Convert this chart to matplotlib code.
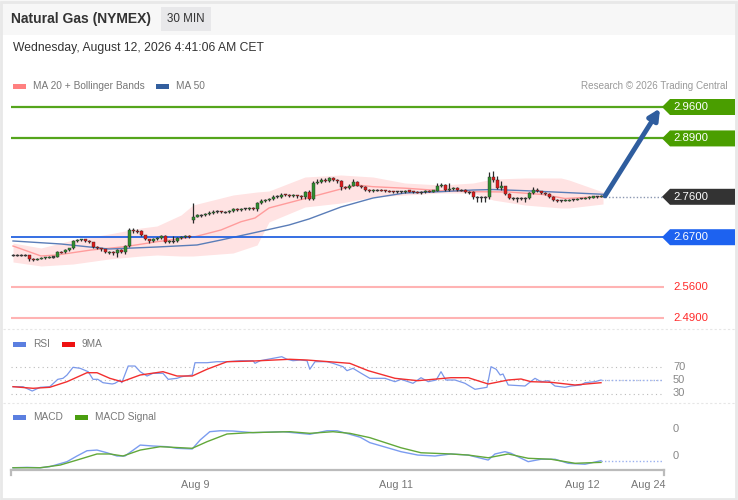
import matplotlib
matplotlib.use('Agg')
import matplotlib.pyplot as plt
from matplotlib.patches import Rectangle, Polygon
import numpy as np

plt.rcParams['font.family'] = ['Liberation Sans', 'DejaVu Sans']

W, H = 738, 500

# ---- data (30 min candles, index = candle number) ----
closes = [
    2.630, 2.630, 2.630, 2.630, 2.621, 2.620, 2.622, 2.624, 2.625, 2.626,
    2.626, 2.637, 2.636, 2.642, 2.645, 2.661, 2.663, 2.665, 2.662, 2.659,
    2.649, 2.645, 2.643, 2.636, 2.637, 2.635, 2.641, 2.637, 2.650, 2.685,
    2.684, 2.683, 2.675, 2.665, 2.662, 2.666, 2.668, 2.672, 2.659, 2.661,
    2.661, 2.668, 2.670, 2.672, 2.671, 2.716, 2.719, 2.719, 2.721, 2.723,
    2.727, 2.727, 2.726, 2.726, 2.728, 2.732, 2.731, 2.733, 2.733, 2.735,
    2.732, 2.746, 2.751, 2.753, 2.754, 2.760, 2.760, 2.765, 2.764, 2.762,
    2.763, 2.761, 2.760, 2.771, 2.755, 2.791, 2.793, 2.798, 2.796, 2.801,
    2.797, 2.795, 2.782, 2.780, 2.785, 2.794, 2.785, 2.782, 2.776, 2.773,
    2.775, 2.775, 2.774, 2.773, 2.772, 2.771, 2.771, 2.771, 2.774, 2.772,
    2.771, 2.770, 2.770, 2.773, 2.772, 2.774, 2.783, 2.786, 2.776, 2.777,
    2.780, 2.775, 2.775, 2.770, 2.770, 2.759, 2.759, 2.759, 2.759, 2.803,
    2.797, 2.779, 2.783, 2.766, 2.757, 2.757, 2.757, 2.757, 2.757, 2.768,
    2.775, 2.772, 2.768, 2.766, 2.760, 2.752, 2.751, 2.751, 2.752, 2.753,
    2.753, 2.756, 2.756, 2.757, 2.759, 2.760, 2.760, 2.761,
]
highs = [
    2.632, 2.632, 2.632, 2.632, 2.631, 2.623, 2.624, 2.626, 2.627, 2.628,
    2.628, 2.639, 2.639, 2.644, 2.647, 2.663, 2.666, 2.667, 2.667, 2.664,
    2.660, 2.650, 2.647, 2.644, 2.640, 2.639, 2.643, 2.643, 2.652, 2.690,
    2.690, 2.688, 2.685, 2.676, 2.667, 2.668, 2.670, 2.674, 2.676, 2.663,
    2.672, 2.670, 2.673, 2.675, 2.674, 2.747, 2.721, 2.722, 2.723, 2.728,
    2.730, 2.730, 2.729, 2.729, 2.731, 2.735, 2.734, 2.736, 2.736, 2.738,
    2.738, 2.749, 2.755, 2.756, 2.757, 2.763, 2.763, 2.768, 2.767, 2.766,
    2.766, 2.765, 2.764, 2.774, 2.776, 2.795, 2.800, 2.802, 2.801, 2.805,
    2.803, 2.799, 2.797, 2.785, 2.788, 2.800, 2.796, 2.787, 2.784, 2.778,
    2.777, 2.777, 2.777, 2.776, 2.775, 2.774, 2.773, 2.773, 2.776, 2.776,
    2.774, 2.773, 2.773, 2.775, 2.775, 2.776, 2.790, 2.790, 2.788, 2.790,
    2.782, 2.782, 2.778, 2.777, 2.773, 2.772, 2.762, 2.762, 2.762, 2.816,
    2.817, 2.806, 2.795, 2.785, 2.768, 2.760, 2.760, 2.760, 2.760, 2.770,
    2.781, 2.779, 2.774, 2.770, 2.768, 2.761, 2.754, 2.753, 2.754, 2.755,
    2.755, 2.758, 2.758, 2.759, 2.761, 2.762, 2.762, 2.763,
]
lows = [
    2.628, 2.628, 2.628, 2.628, 2.618, 2.618, 2.619, 2.621, 2.622, 2.623,
    2.624, 2.625, 2.634, 2.634, 2.640, 2.643, 2.659, 2.661, 2.660, 2.657,
    2.647, 2.643, 2.640, 2.634, 2.633, 2.630, 2.627, 2.634, 2.632, 2.648,
    2.680, 2.680, 2.673, 2.663, 2.657, 2.660, 2.664, 2.666, 2.657, 2.656,
    2.658, 2.659, 2.666, 2.668, 2.669, 2.701, 2.714, 2.716, 2.717, 2.719,
    2.721, 2.724, 2.723, 2.723, 2.724, 2.726, 2.728, 2.729, 2.730, 2.731,
    2.730, 2.728, 2.744, 2.749, 2.750, 2.752, 2.757, 2.758, 2.761, 2.759,
    2.760, 2.758, 2.756, 2.755, 2.752, 2.752, 2.789, 2.791, 2.793, 2.794,
    2.795, 2.791, 2.776, 2.777, 2.778, 2.783, 2.783, 2.780, 2.774, 2.771,
    2.771, 2.772, 2.772, 2.771, 2.770, 2.769, 2.769, 2.768, 2.769, 2.770,
    2.769, 2.768, 2.767, 2.768, 2.770, 2.770, 2.772, 2.781, 2.774, 2.774,
    2.775, 2.773, 2.772, 2.768, 2.767, 2.756, 2.748, 2.748, 2.749, 2.756,
    2.794, 2.777, 2.776, 2.764, 2.754, 2.753, 2.749, 2.753, 2.749, 2.755,
    2.766, 2.770, 2.766, 2.764, 2.758, 2.750, 2.749, 2.749, 2.750, 2.751,
    2.751, 2.752, 2.754, 2.755, 2.755, 2.758, 2.758, 2.759,
]
opens = [closes[0]] + closes[:-1]
opens[45] = 2.708  # weekend gap

ma20_x = [0, 7, 11, 19.5, 28, 36, 45.5, 52, 57, 60.5, 64, 73.5, 82, 86, 90,
          98.5, 107, 115, 124, 132.5, 138, 147.5]
ma20 = [2.6504, 2.6282, 2.6304, 2.6415, 2.6489, 2.6600, 2.6711, 2.6861,
        2.7045, 2.7128, 2.7351, 2.7573, 2.7774, 2.7863, 2.7825, 2.7789,
        2.7736, 2.7714, 2.7707, 2.7651, 2.7562, 2.7607]

bb_x = [0, 7, 15, 24, 32, 36, 42, 45, 55, 61, 64, 73, 82, 90, 98, 107, 115,
        120, 128, 137, 139, 147.5]
bb_upper = [2.6571, 2.6460, 2.6638, 2.6771, 2.6905, 2.6950, 2.7195, 2.7417,
            2.7640, 2.7707, 2.7729, 2.8041, 2.8086, 2.8041, 2.7907, 2.7863,
            2.7907, 2.7996, 2.8019, 2.8019, 2.7974, 2.7707]
bb_lower = [2.6148, 2.6059, 2.6103, 2.6215, 2.6281, 2.6304, 2.6281, 2.6281,
            2.6348, 2.6526, 2.7039, 2.7373, 2.7462, 2.7596, 2.7640, 2.7685,
            2.7685, 2.7529, 2.7417, 2.7351, 2.7351, 2.7440]

ma50_x = [0, 12, 24, 36, 46, 52, 60, 69, 74, 82, 90, 98, 107, 115, 120, 128,
          137, 147.5]
ma50 = [2.6616, 2.6549, 2.6437, 2.6482, 2.6527, 2.6638, 2.6794, 2.6972,
        2.7106, 2.7373, 2.7573, 2.7685, 2.7714, 2.7751, 2.7762, 2.7736,
        2.7700, 2.7656]

resistances = [2.96, 2.89]
pivot = 2.76
support_main = 2.67
supports_minor = [2.56, 2.49]

rsi_x = [0, 2.5, 4.8, 6.8, 9.2, 11.2, 12.5, 13.5, 15, 16.8, 18.8, 20, 21.2,
         22.5, 24.8, 25.5, 26.8, 27.2, 28.8, 30.5, 31.8, 33.5, 35, 37.5, 38.8,
         41, 42.2, 44.8, 45.5, 48.5, 51, 53.5, 56.8, 60, 60.5, 61.8, 65, 67.2,
         68.5, 70, 71.8, 73.5, 74.2, 75.5, 78.5, 80, 82.5, 83.5, 85, 86.8,
         89.2, 93, 95.5, 97, 100, 102, 103.8, 105.8, 107, 108.2, 110.5, 113,
         115.5, 117, 118.5, 119.5, 120.8, 121.8, 122.5, 123.8, 128, 130.5,
         132, 133.8, 135.5, 138, 139.5, 142, 143, 145.5, 147]
rsi = [40.1, 40.1, 33.7, 39.2, 40.1, 51.0, 52.5, 57.4, 68.8, 67.3, 62.3, 51.0,
       51.0, 46.0, 44.1, 45.1, 50.0, 46.0, 70.7, 70.7, 62.3, 55.9, 59.9, 59.9,
       51.0, 52.5, 54.9, 57.4, 75.6, 75.6, 77.1, 77.1, 78.6, 78.6, 74.7, 78.6,
       82.1, 84.5, 80.7, 78.6, 79.6, 78.6, 65.9, 77.1, 77.1, 74.7, 69.7, 63.8,
       67.3, 60.8, 52.5, 52.5, 47.5, 51.0, 45.1, 53.4, 47.5, 50.0, 62.3, 50.0,
       50.0, 45.1, 36.2, 37.7, 39.2, 69.7, 65.9, 57.4, 58.9, 42.6, 41.1, 52.5,
       47.5, 49.0, 41.1, 39.2, 41.1, 42.6, 46.0, 47.5, 50.0]

rsi_ma_x = [0, 5, 9.2, 13.5, 18.5, 21, 24.2, 27.2, 31.8, 37.5, 41, 44.8, 48.5,
            53.5, 60, 69.2, 73.5, 84.2, 88.8, 95.5, 101.2, 109.5, 113.8,
            118.8, 123.8, 127, 129.5, 134.5, 140.5, 147]
rsi_ma = [40.1, 37.7, 39.2, 47.5, 60.8, 60.8, 52.5, 47.5, 57.4, 62.3, 55.9,
          55.9, 65.9, 77.1, 78.1, 80.7, 79.6, 74.7, 63.8, 52.5, 49.0, 53.4,
          53.4, 44.1, 50.0, 51.5, 47.5, 46.6, 42.6, 46.0]

macd_x = [0, 3.5, 6.8, 9.2, 13.5, 16, 18.5, 21, 23.5, 26, 28, 31.8, 35, 38.5,
          41, 44.8, 46.8, 49.2, 51.8, 55, 60, 67.5, 74.2, 78.5, 81, 84.2, 86.8,
          89.2, 97, 101.2, 105.5, 109.5, 113.8, 118.8, 120.5, 123, 124.5,
          128.8, 132, 135.5, 138.8, 143, 147]
macd = [-0.0087, -0.0084, -0.0087, -0.0079, -0.0042, 0.0000, 0.0039, 0.0044,
        0.0024, 0.0000, 0.0000, 0.0081, 0.0074, 0.0069, 0.0057, 0.0052,
        0.0119, 0.0180, 0.0187, 0.0185, 0.0173, 0.0180, 0.0161, 0.0187,
        0.0187, 0.0161, 0.0139, 0.0099, 0.0032, 0.0007, 0.0000, 0.0015,
        0.0007, -0.0030, 0.0015, 0.0032, 0.0020, -0.0042, -0.0024, -0.0024,
        -0.0054, -0.0061, -0.0035]

signal_x = [0, 6.8, 11.8, 16, 21, 24.2, 27.5, 31.8, 36.8, 44.8, 48.5, 53.5,
            59.2, 69.2, 74.2, 80, 84.2, 89.2, 97, 102, 109.5, 113.8, 118.8,
            123.8, 128.8, 134.5, 140.5, 147]
signal = [-0.0087, -0.0087, -0.0067, -0.0030, 0.0015, 0.0015, 0.0000, 0.0044,
          0.0069, 0.0057, 0.0106, 0.0163, 0.0173, 0.0180, 0.0168, 0.0180,
          0.0168, 0.0136, 0.0061, 0.0024, 0.0015, 0.0007, -0.0013, 0.0015,
          -0.0017, -0.0024, -0.0054, -0.0047]

date_ticks = [45.5, 95.75, 142.25, 158.75]
date_labels = ['Aug 9', 'Aug 11', 'Aug 12', 'Aug 24']

# arrow projection
arrow_start = (148, 2.762)
arrow_end = (161.75, 2.957)

GREEN_LINE = '#55a51c'
GREEN_TAG = '#4a9e00'
BLUE_LINE = '#2563e0'
BLUE_TAG = '#1d62f0'
RED_LINE = '#ffb3b3'
RED_TEXT = '#ff2a2a'
GRAY_TXT = '#888888'


def rect(l, t, r, b):
    """Figure-fraction rect from pixel box"""
    return [l / W, 1 - b / H, (r - l) / W, (b - t) / H]


def fx(x):
    return x / W


def fy(y):
    return 1 - y / H


XMIN, XMAX = -0.5, 162.75


def tag(ax, price, color, text):
    """Pentagon price label on the right of the axis"""
    hh = 8 / 449
    pts = [(162.25, price), (164.25, price + hh), (180.5, price + hh),
           (180.5, price - hh), (164.25, price - hh)]
    ax.add_patch(Polygon(pts, closed=True, facecolor=color, edgecolor='none',
                         clip_on=False, zorder=5))
    ax.text(165.0, price, text, color='white', fontsize=8.2, va='center',
            ha='left', clip_on=False, zorder=6)


fig = plt.figure(figsize=(W / 100, H / 100), dpi=100)
fig.patch.set_facecolor('white')

# header band and border
fig.add_artist(Rectangle((0, fy(35)), 1, 35 / H, transform=fig.transFigure,
                         facecolor='#f7f7f7', edgecolor='none', zorder=0))
fig.add_artist(Rectangle((fx(161), fy(31)), 50 / W, 24 / H,
                         transform=fig.transFigure, facecolor='#e8e8ea',
                         edgecolor='none', zorder=1))
fig.add_artist(Rectangle((0.002, 0.003), 0.995, 0.994, transform=fig.transFigure,
                         facecolor='none', edgecolor='#e8e8e8', lw=2, zorder=10))
fig.text(fx(11), fy(19), 'Natural Gas (NYMEX)', fontsize=10, fontweight='bold',
         color='#333333', va='center', ha='left')
fig.text(fx(186), fy(19), '30 MIN', fontsize=8.4, color='#333333',
         va='center', ha='center', zorder=2)
fig.text(fx(13), fy(48), 'Wednesday, August 12, 2026 4:41:06 AM CET',
         fontsize=8.7, color='#333333', va='center', ha='left')

# separators between panels
for ysep in (329, 403):
    fig.add_artist(plt.Line2D([0.004, 0.996], [fy(ysep), fy(ysep)],
                              transform=fig.transFigure, color='#e6e6e6',
                              lw=0.8, ls=(0, (2, 2))))


def legend_item(x, y, color, label):
    fig.add_artist(Rectangle((fx(x), fy(y + 2.5)), 13 / W, 5 / H,
                             transform=fig.transFigure, facecolor=color,
                             edgecolor='none'))
    fig.text(fx(x + 20), fy(y), label, fontsize=7.3, color='#777777',
             va='center', ha='left')


# ---- main price panel ----
ax = fig.add_axes(rect(11, 70, 664, 328))
ax.set_xlim(XMIN, XMAX)
ax.set_ylim(2.96 - 221 / 449, 2.96 + 37 / 449)
ax.axis('off')

ax.fill_between(bb_x, bb_lower, bb_upper, color='#ffe3e3', lw=0, zorder=1)
ax.plot(ma20_x, ma20, color='#ff9c9c', lw=1.0, zorder=2)
ax.plot(ma50_x, ma50, color='#5a7db8', lw=1.0, zorder=2)

for level in resistances:
    ax.axhline(level, color=GREEN_LINE, lw=1.6, zorder=3)
    tag(ax, level, GREEN_TAG, f'{level:.4f}')
ax.axhline(support_main, color=BLUE_LINE, lw=1.3, zorder=3)
tag(ax, support_main, BLUE_TAG, f'{support_main:.4f}')
for level in supports_minor:
    ax.axhline(level, color=RED_LINE, lw=1.5, zorder=3)
    ax.text(165.0, level, f'{level:.4f}', color=RED_TEXT, fontsize=8.2,
            va='center', ha='left', clip_on=False)
ax.hlines(pivot, len(closes), XMAX, colors='#8a96b0', lw=1.0,
          linestyles=(0, (1, 1.5)), zorder=3)
tag(ax, pivot, '#333333', f'{pivot:.4f}')

# candles
idx = np.arange(len(closes))
min_body = 0.0024
for i in idx:
    o, c, h, l = opens[i], closes[i], highs[i], lows[i]
    if c > o:
        col = '#2f8f2f'
    elif c < o:
        col = '#e01b1b'
    else:
        col = '#444444'
    ax.vlines(i, l, h, color='#2a2a2a', lw=0.9, zorder=4)
    bottom = min(o, c)
    height = max(abs(c - o), min_body)
    if abs(c - o) < min_body:
        bottom = (o + c) / 2 - min_body / 2
    ax.bar(i, height, bottom=bottom, width=0.75, color=col,
           edgecolor='#2a2a2a', lw=0.3, zorder=5)

ax.annotate('', xy=arrow_end, xytext=arrow_start,
            arrowprops=dict(arrowstyle='-|>', color='#2f5d9e', lw=3.5,
                            mutation_scale=16, shrinkA=0, shrinkB=0),
            zorder=6)

legend_item(13, 86, '#ff8080', 'MA 20 + Bollinger Bands')
legend_item(156, 86, '#335f9e', 'MA 50')
fig.text(fx(728), fy(86), 'Research \u00a9 2026 Trading Central', fontsize=7.1,
         color='#999999', va='center', ha='right')

# ---- RSI panel ----
ax_rsi = fig.add_axes(rect(11, 330, 664, 403))
ax_rsi.set_xlim(XMIN, XMAX)
ax_rsi.set_ylim(50 - 23 / 0.675, 50 + 50 / 0.675)
ax_rsi.axis('off')
for lvl in (70, 50, 30):
    ax_rsi.axhline(lvl, color='#bbbbbb', lw=0.8, ls=(0, (1, 3)))
    ax_rsi.text(1.0138, lvl, str(lvl), transform=ax_rsi.get_yaxis_transform(),
                fontsize=8, color=GRAY_TXT, va='center', ha='left')
ax_rsi.plot(rsi_x, rsi, color='#7a98ea', lw=0.9, zorder=3)
ax_rsi.plot(rsi_ma_x, rsi_ma, color='#f22f2f', lw=1.0, zorder=4)
ax_rsi.hlines(rsi[-1], rsi_x[-1], XMAX, colors='#9ab0f0', lw=1.0,
              linestyles=(0, (1, 1.5)))
legend_item(13, 344, '#5b7fe0', 'RSI')
legend_item(62, 344, '#ee1111', '9MA')

# ---- MACD panel ----
ax_macd = fig.add_axes(rect(11, 405, 664, 470))
ax_macd.set_xlim(XMIN, XMAX)
ax_macd.set_ylim(-14 / 1350, 51 / 1350)
for side in ('top', 'right', 'left'):
    ax_macd.spines[side].set_visible(False)
ax_macd.spines['bottom'].set_color('#bbbbbb')
ax_macd.spines['bottom'].set_linewidth(1.6)
ax_macd.set_yticks([])
ax_macd.set_xticks(date_ticks, date_labels)
ax_macd.tick_params(axis='x', length=0, pad=7, labelsize=7.8,
                    labelcolor='#777777')
for xe in (0, 1):
    ax_macd.plot([xe, xe], [0, -5 / 65], transform=ax_macd.transAxes,
                 color='#bbbbbb', lw=1.6, clip_on=False)
ax_macd.plot(macd_x, macd, color='#7b9cf0', lw=1.0, zorder=3)
ax_macd.plot(signal_x, signal, color='#62a83a', lw=1.0, zorder=4)
ax_macd.hlines(macd[-1], macd_x[-1], XMAX, colors='#9ab0f0', lw=1.0,
               linestyles=(0, (1, 1.5)))
for val in (0.02, 0.0):
    ax_macd.text(1.0138, val, f'{val:.0f}', transform=ax_macd.get_yaxis_transform(),
                 fontsize=8, color=GRAY_TXT, va='center', ha='left')
legend_item(13, 417, '#5b7fe0', 'MACD')
legend_item(75, 417, '#4a9e10', 'MACD Signal')

fig.savefig('out.png', dpi=100)
plt.close('all')
